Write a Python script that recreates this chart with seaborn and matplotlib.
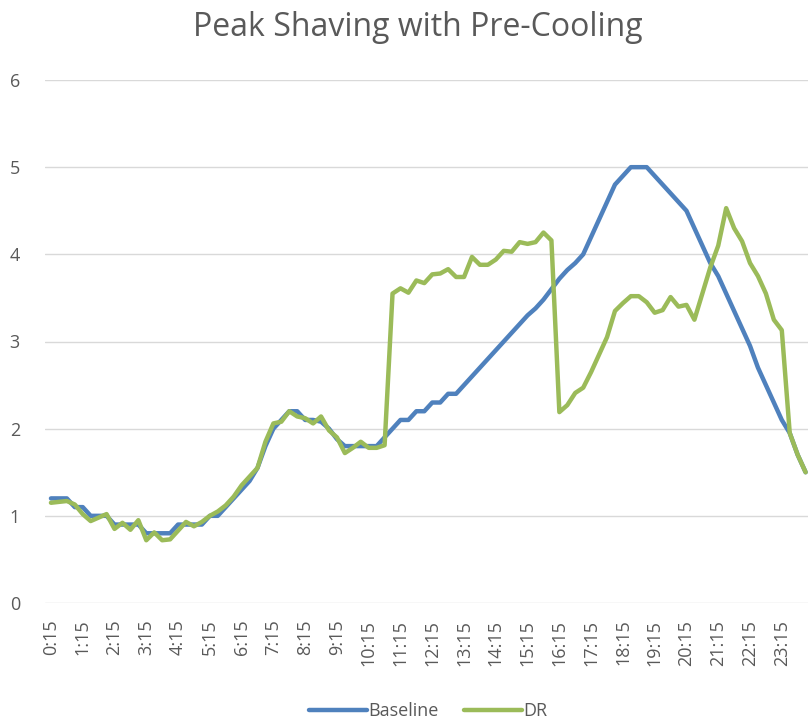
import matplotlib
matplotlib.use("Agg")
import matplotlib.pyplot as plt
import seaborn as sns
import pandas as pd

# 15-minute intervals from 0:15 to 24:00
times = [f"{(m // 60)}:{m % 60:02d}" for m in range(15, 24 * 60 + 1, 15)]

baseline = [
    1.2, 1.2, 1.2, 1.1, 1.1, 1.0, 1.0, 1.0, 0.9, 0.9, 0.9, 0.9,
    0.8, 0.8, 0.8, 0.8, 0.9, 0.9, 0.9, 0.9, 1.0, 1.0, 1.1, 1.2,
    1.3, 1.4, 1.55, 1.8, 2.0, 2.1, 2.2, 2.2, 2.1, 2.1, 2.08, 2.0,
    1.88, 1.8, 1.8, 1.8, 1.8, 1.8, 1.9, 2.0, 2.1, 2.1, 2.2, 2.2,
    2.3, 2.3, 2.4, 2.4, 2.5, 2.6, 2.7, 2.8, 2.9, 3.0, 3.1, 3.2,
    3.3, 3.38, 3.48, 3.6, 3.72, 3.82, 3.9, 4.0, 4.2, 4.4, 4.6, 4.8,
    4.9, 5.0, 5.0, 5.0, 4.9, 4.8, 4.7, 4.6, 4.5, 4.3, 4.1, 3.9,
    3.75, 3.55, 3.35, 3.15, 2.95, 2.7, 2.5, 2.3, 2.1, 1.95, 1.7, 1.5,
]

dr = [
    1.15, 1.16, 1.17, 1.13, 1.02, 0.94, 0.98, 1.02, 0.85, 0.92, 0.84, 0.95,
    0.72, 0.81, 0.72, 0.73, 0.83, 0.93, 0.88, 0.93, 1.0, 1.05, 1.12, 1.22,
    1.35, 1.45, 1.55, 1.85, 2.06, 2.08, 2.2, 2.14, 2.12, 2.06, 2.14, 1.98,
    1.9, 1.72, 1.78, 1.85, 1.78, 1.78, 1.81, 3.55, 3.61, 3.56, 3.7, 3.67,
    3.77, 3.78, 3.83, 3.74, 3.74, 3.97, 3.88, 3.88, 3.94, 4.04, 4.03, 4.14,
    4.12, 4.14, 4.25, 4.16, 2.19, 2.27, 2.41, 2.47, 2.65, 2.85, 3.05, 3.35,
    3.44, 3.52, 3.52, 3.45, 3.33, 3.36, 3.51, 3.4, 3.42, 3.25, 3.55, 3.85,
    4.1, 4.53, 4.3, 4.15, 3.9, 3.75, 3.55, 3.25, 3.13, 1.95, 1.7, 1.5,
]

series_names = ["Baseline", "DR"]
colors = ["#4F81BD", "#9BBB59"]
title = "Peak Shaving with Pre-Cooling"
y_ticks = [0, 1, 2, 3, 4, 5, 6]

df = pd.DataFrame({
    "idx": list(range(len(times))) * 2,
    "value": baseline + dr,
    "series": [series_names[0]] * len(times) + [series_names[1]] * len(times),
})

sns.set_theme(style="white")
plt.rcParams["font.family"] = ["Open Sans", "DejaVu Sans"]

fig = plt.figure(figsize=(8.08, 7.22), dpi=100)
ax = fig.add_axes([45 / 808, (722 - 603) / 722, 1 - 45 / 808, (603 - 80) / 722])

sns.lineplot(data=df, x="idx", y="value", hue="series", palette=colors,
             linewidth=3.2, ax=ax, legend=True)

ax.set_xlim(-0.75, 95.3)
ax.set_ylim(0, 6)
ax.set_yticks(y_ticks)
ax.set_yticklabels([str(t) for t in y_ticks])
tick_pos = list(range(0, len(times), 4))
ax.set_xticks(tick_pos)
ax.set_xticklabels([times[i] for i in tick_pos], rotation=90)
ax.grid(axis="y", color="#D9D9D9", linewidth=1.0)
ax.set_axisbelow(True)
for s in ax.spines.values():
    s.set_visible(False)
ax.tick_params(axis="both", length=0, colors="#595959", labelsize=13)
ax.tick_params(axis="y", pad=18)
ax.tick_params(axis="x", pad=12)
ax.set_xlabel("")
ax.set_ylabel("")

fig.text(0.517, 0.962, title, ha="center", va="center", fontsize=23,
         color="#595959")

handles, labels = ax.get_legend_handles_labels()
ax.get_legend().remove()
leg = fig.legend(handles, labels, loc="lower center",
                 bbox_to_anchor=(0.53, 0.0), ncol=2, frameon=False,
                 fontsize=13, handlelength=3.2, columnspacing=1.4,
                 handletextpad=0.1, borderaxespad=0.05, borderpad=0.05)
for t in leg.get_texts():
    t.set_color("#595959")

fig.savefig("out.png", dpi=100)
